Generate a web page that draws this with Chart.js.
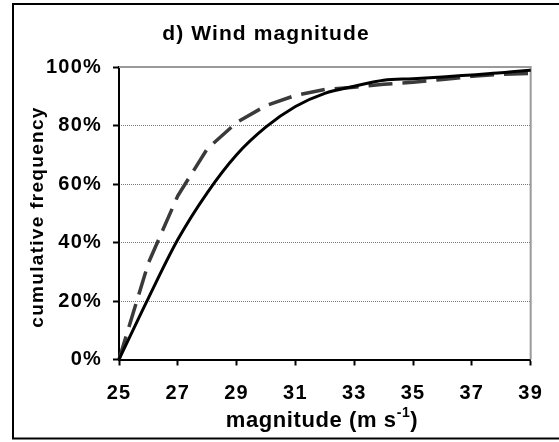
<!DOCTYPE html>
<html>
<head>
<meta charset="utf-8">
<script src="https://cdn.jsdelivr.net/npm/chart.js@4/dist/chart.umd.min.js"></script>
<style>
  html, body { margin: 0; padding: 0; background: #fff; }
  #wrap { width: 559px; height: 442px; }
</style>
</head>
<body>
<div id="wrap"><canvas id="c" width="559" height="442"></canvas></div>
<script>
// Wind magnitude (m/s) bins and cumulative frequencies (%)
const magnitudes = [25, 26, 27, 28, 29, 30, 31, 32, 33, 34, 35, 36, 37, 38, 39];
const solidSeries = [0, 21, 41, 57, 70, 79.5, 86.5, 91, 93.4, 95.5, 96, 96.6, 97.3, 98, 98.9];
const dashedSeries = [0, 33, 56, 72, 81, 86.8, 90.3, 92.3, 93.1, 94.1, 94.8, 95.7, 96.8, 97.5, 97.8];
const yTickValues = [0, 20, 40, 60, 80, 100];
const xTickValues = [25, 27, 29, 31, 33, 35, 37, 39];

const titleText = 'd) Wind magnitude';
const yTitleText = 'cumulative frequency';
const xTitleMain = 'magnitude (m s';
const xTitleSup = '-1';
const xTitleEnd = ')';

const FONT = '"Liberation Sans", Arial, sans-serif';
const TICK_SPACING = '1.2px';

const toPoints = (xs, ys) => xs.map((x, i) => ({ x: x, y: ys[i] }));

// Outer frame, plot frame and the free-standing texts
const decor = {
  id: 'decor',
  beforeUpdate(chart) {
    chart.ctx.letterSpacing = TICK_SPACING;
  },
  beforeDraw(chart) {
    const ctx = chart.ctx;
    ctx.letterSpacing = TICK_SPACING;
    ctx.save();
    ctx.fillStyle = '#fff';
    ctx.fillRect(0, 0, chart.width, chart.height);
    ctx.strokeStyle = '#000';
    ctx.lineWidth = 2;
    ctx.strokeRect(13, 4, chart.width + 20, 434.5);
    ctx.restore();
  },
  beforeDatasetsDraw(chart) {
    const { ctx, chartArea: a } = chart;
    ctx.save();
    ctx.strokeStyle = '#9a9a9a';
    ctx.lineWidth = 2;
    ctx.beginPath();
    ctx.moveTo(a.left, a.top);
    ctx.lineTo(a.right, a.top);
    ctx.lineTo(a.right, a.bottom);
    ctx.stroke();
    ctx.restore();
  },
  afterDraw(chart) {
    const ctx = chart.ctx;
    ctx.save();
    ctx.fillStyle = '#000';
    ctx.textBaseline = 'alphabetic';

    // chart title
    ctx.font = 'bold 21px ' + FONT;
    ctx.letterSpacing = '1.1px';
    ctx.textAlign = 'center';
    ctx.fillText(titleText, 266, 40);

    // y-axis title
    ctx.save();
    ctx.translate(43, 217);
    ctx.rotate(-Math.PI / 2);
    ctx.font = 'bold 19px ' + FONT;
    ctx.letterSpacing = '1.3px';
    ctx.textAlign = 'center';
    ctx.fillText(yTitleText, 0, 0);
    ctx.restore();

    // x-axis title with superscript
    ctx.letterSpacing = '0.6px';
    ctx.font = 'bold 22px ' + FONT;
    const wMain = ctx.measureText(xTitleMain).width;
    const wEnd = ctx.measureText(xTitleEnd).width;
    ctx.font = 'bold 14px ' + FONT;
    const wSup = ctx.measureText(xTitleSup).width;
    const total = wMain + wSup + wEnd;
    let x = 322 - total / 2;
    const base = 427;
    ctx.textAlign = 'left';
    ctx.font = 'bold 22px ' + FONT;
    ctx.fillText(xTitleMain, x, base);
    x += wMain;
    ctx.font = 'bold 14px ' + FONT;
    ctx.fillText(xTitleSup, x, base - 10);
    x += wSup;
    ctx.font = 'bold 22px ' + FONT;
    ctx.fillText(xTitleEnd, x, base);
    ctx.restore();
  }
};

new Chart(document.getElementById('c'), {
  type: 'line',
  data: {
    datasets: [
      {
        data: toPoints(magnitudes, solidSeries),
        borderColor: '#000',
        borderWidth: 3,
        pointRadius: 0,
        cubicInterpolationMode: 'monotone',
        fill: false,
        clip: false
      },
      {
        data: toPoints(magnitudes, dashedSeries),
        borderColor: '#3a3a3a',
        borderWidth: 3.5,
        borderDash: [24, 10],
        pointRadius: 0,
        tension: 0,
        fill: false,
        clip: false
      }
    ]
  },
  options: {
    responsive: false,
    animation: false,
    devicePixelRatio: 1,
    layout: { padding: { top: 67, right: 28, left: 0, bottom: 0 } },
    plugins: { legend: { display: false }, tooltip: { enabled: false }, title: { display: false } },
    scales: {
      x: {
        type: 'linear',
        min: 25,
        max: 39,
        afterBuildTicks(scale) { scale.ticks = xTickValues.map(v => ({ value: v })); },
        afterFit(scale) { scale.height = 82.5; },
        border: { display: true, color: '#000', width: 2 },
        grid: { drawOnChartArea: false, drawTicks: true, tickLength: 6, tickColor: '#000', tickWidth: 2 },
        ticks: { color: '#000', font: { family: FONT, size: 20, weight: 'bold' }, padding: 16, maxRotation: 0 }
      },
      y: {
        type: 'linear',
        min: 0,
        max: 100,
        position: 'left',
        afterBuildTicks(scale) { scale.ticks = yTickValues.map(v => ({ value: v })); },
        afterFit(scale) { scale.width = 0; },
        border: { display: false, dash: [1, 1] },
        grid: { color: '#7a7a7a', lineWidth: 1, drawTicks: false },
        ticks: { display: false }
      },
      yLabels: {
        type: 'linear',
        min: 0,
        max: 100,
        position: 'left',
        afterBuildTicks(scale) { scale.ticks = yTickValues.map(v => ({ value: v })); },
        afterFit(scale) { scale.width = 119; },
        border: { display: true, color: '#000', width: 2 },
        grid: { drawOnChartArea: false, drawTicks: true, tickLength: 6, tickColor: '#000', tickWidth: 2 },
        ticks: {
          color: '#000',
          font: { family: FONT, size: 20, weight: 'bold' },
          padding: 11,
          callback: v => v + '%'
        }
      }
    }
  },
  plugins: [decor]
});
</script>
</body>
</html>
